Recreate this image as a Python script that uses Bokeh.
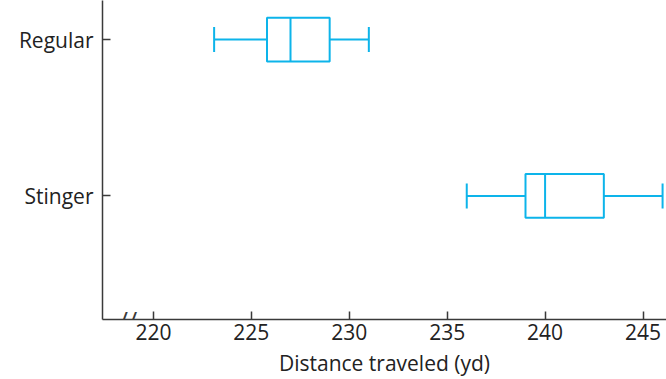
from bokeh.plotting import figure
from bokeh.models import FixedTicker, Range1d, Label
from bokeh.embed import file_html
from bokeh.resources import INLINE

categories = ["Regular", "Stinger"]
cat_pos = [2, 1]
whisker_low = [223.1, 236.0]
q1 = [225.8, 239.0]
median = [227.0, 240.0]
q3 = [229.0, 243.0]
whisker_high = [231.0, 246.0]
x_ticks = [220, 225, 230, 235, 240, 245]

COLOR = "#0DB4EA"
FONT = "Open Sans"
TXT = "#222222"

p = figure(width=666, height=379, output_backend="svg", toolbar_location=None,
           x_range=Range1d(217.4, 246.2), y_range=Range1d(0.21, 2.25),
           min_border_left=102, min_border_bottom=59, min_border_top=0, min_border_right=0)
p.outline_line_color = None
p.xgrid.visible = False
p.ygrid.visible = False

box_h = 0.28
cap_h = 0.16
for i in range(len(categories)):
    y = cat_pos[i]
    p.segment(x0=[whisker_low[i], q3[i]], y0=[y, y], x1=[q1[i], whisker_high[i]], y1=[y, y],
              line_color=COLOR, line_width=2)
    p.segment(x0=[whisker_low[i], whisker_high[i]], y0=[y - cap_h / 2] * 2,
              x1=[whisker_low[i], whisker_high[i]], y1=[y + cap_h / 2] * 2,
              line_color=COLOR, line_width=2)
    p.quad(left=[q1[i]], right=[q3[i]], bottom=[y - box_h / 2], top=[y + box_h / 2],
           fill_color=None, line_color=COLOR, line_width=2)
    p.segment(x0=[median[i]], y0=[y - box_h / 2], x1=[median[i]], y1=[y + box_h / 2],
              line_color=COLOR, line_width=2)

for ax in (p.xaxis, p.yaxis):
    ax.axis_line_color = "#3a3a3a"
    ax.axis_line_width = 1.5
    ax.major_tick_line_color = "#3a3a3a"
    ax.major_tick_line_width = 1.5
    ax.major_tick_in = 8
    ax.major_tick_out = 0
    ax.minor_tick_line_color = None
    ax.major_label_text_font = FONT
    ax.major_label_text_font_size = "21px"
    ax.major_label_text_color = TXT

p.xaxis.ticker = FixedTicker(ticks=x_ticks)
p.xaxis.major_label_standoff = 4
p.xaxis.axis_label = "Distance traveled (yd)"
p.xaxis.axis_label_text_font = FONT
p.xaxis.axis_label_text_font_size = "21px"
p.xaxis.axis_label_text_font_style = "normal"
p.xaxis.axis_label_text_color = TXT
p.xaxis.axis_label_standoff = 6

p.yaxis.ticker = FixedTicker(ticks=cat_pos)
p.yaxis.major_label_overrides = {pos: c for pos, c in zip(cat_pos, categories)}
p.yaxis.major_label_standoff = 9

# axis break mark
p.add_layout(Label(x=218.7, y=0.21, text="//", text_align="center", text_baseline="middle",
                   text_font=FONT, text_font_size="25px", text_color="#3a3a3a"))

open("out.html", "w").write(file_html(p, INLINE))
